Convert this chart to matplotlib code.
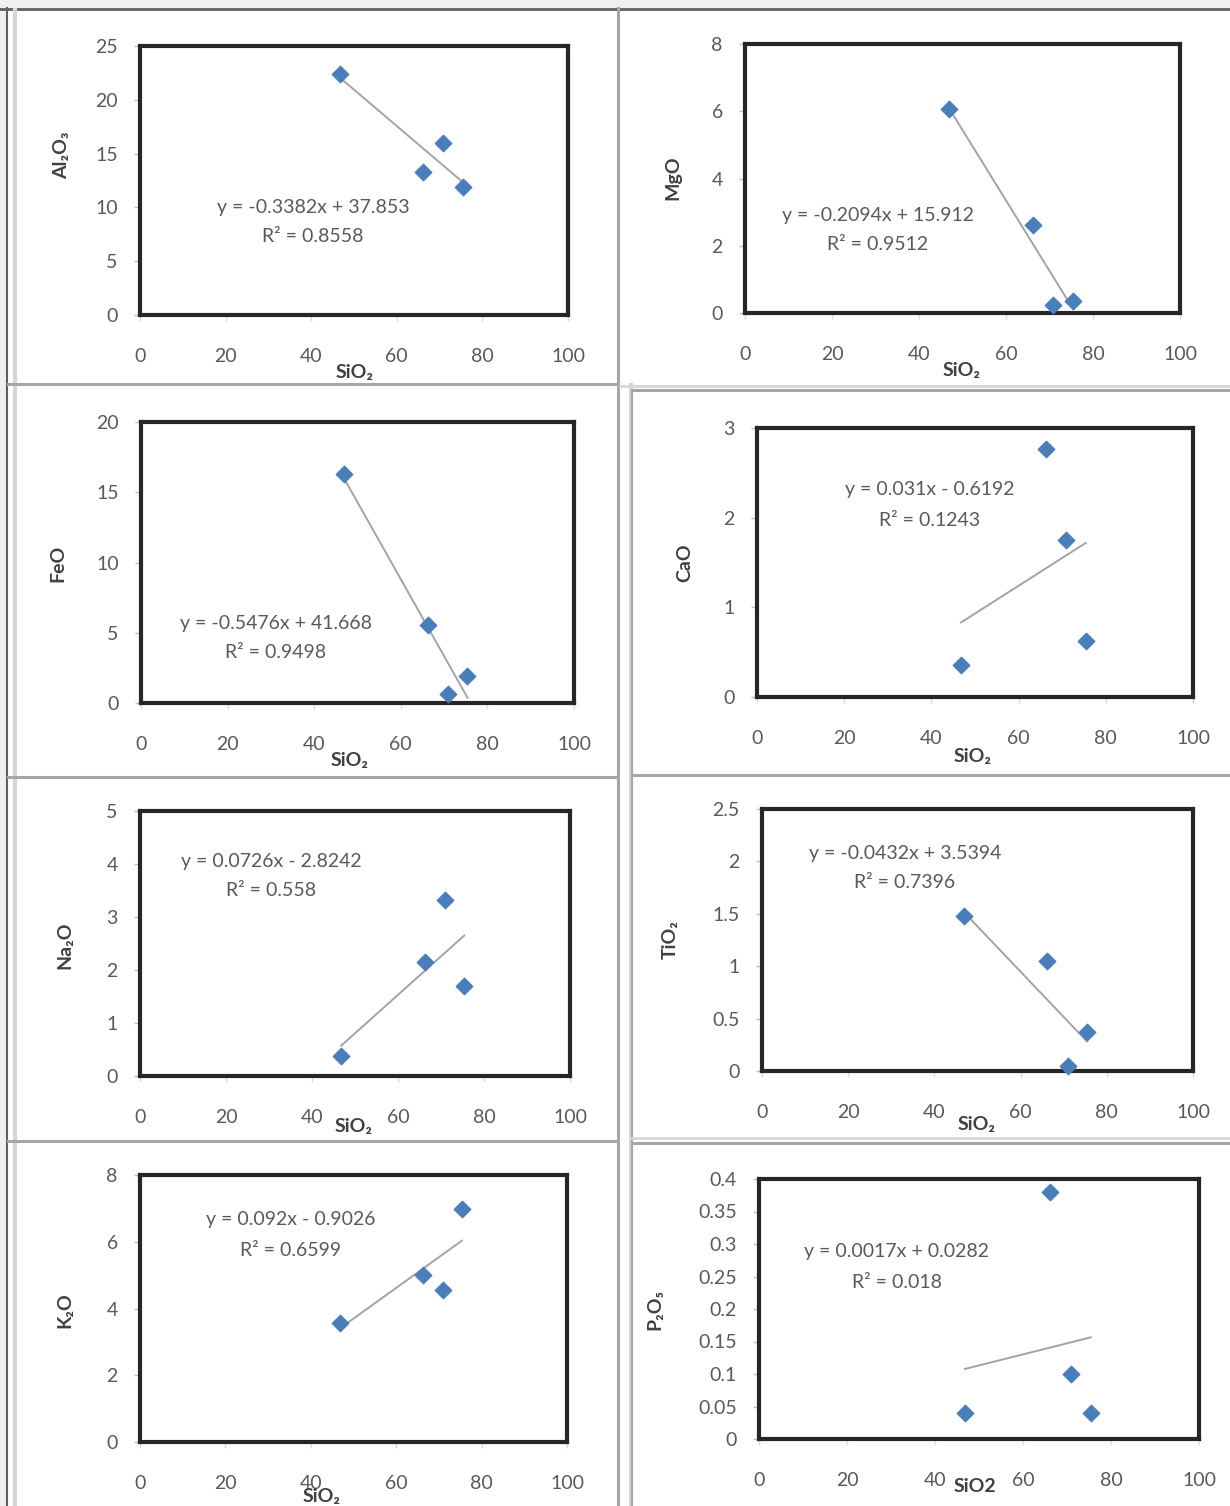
import matplotlib
matplotlib.use("Agg")
import matplotlib.pyplot as plt
from matplotlib.lines import Line2D
import numpy as np

plt.rcParams['font.family'] = ['Lato', 'DejaVu Sans']

W, H = 1230, 1506

# ---------------- data ----------------
sio2 = [46.8, 66.2, 70.9, 75.4]

al2o3 = [22.4, 13.3, 16.0, 11.9]
mgo = [6.07, 2.62, 0.24, 0.36]
feo = [16.3, 5.55, 0.64, 1.92]
cao = [0.36, 2.77, 1.75, 0.63]
na2o = [0.38, 2.15, 3.32, 1.70]
tio2 = [1.48, 1.05, 0.05, 0.37]
k2o = [3.57, 5.0, 4.55, 6.98]
p2o5 = [0.04, 0.38, 0.10, 0.04]

slopes = [-0.3382, -0.2094, -0.5476, 0.031, 0.0726, -0.0432, 0.092, 0.0017]
intercepts = [37.853, 15.912, 41.668, -0.6192, -2.8242, 3.5394, -0.9026, 0.0282]
r2 = ["0.8558", "0.9512", "0.9498", "0.1243", "0.558", "0.7396", "0.6599", "0.018"]
equations = ["y = -0.3382x + 37.853", "y = -0.2094x + 15.912", "y = -0.5476x + 41.668",
             "y = 0.031x - 0.6192", "y = 0.0726x - 2.8242", "y = -0.0432x + 3.5394",
             "y = 0.092x - 0.9026", "y = 0.0017x + 0.0282"]
ylabels = ["Al\u2082O\u2083", "MgO", "FeO", "CaO", "Na\u2082O", "TiO\u2082", "K\u2082O", "P\u2082O\u2085"]
xlabels = ["SiO\u2082"] * 7 + ["SiO2"]
series = [al2o3, mgo, feo, cao, na2o, tio2, k2o, p2o5]
ymax = [25, 8, 20, 3, 5, 2.5, 8, 0.4]
ystep = [5, 2, 5, 1, 1, 0.5, 2, 0.05]
xticks = [0, 20, 40, 60, 80, 100]

# ---------------- layout (pixels) ----------------
axes_px = [(140, 46, 568, 315), (745, 44, 1180, 313),
           (141, 422, 574, 703), (757, 428, 1193, 697),
           (140, 811, 570, 1076), (762, 809, 1193, 1071),
           (140, 1175, 567, 1442), (759, 1179, 1199, 1439)]
eq_pos = [(313, 207), (878, 215), (276, 623), (930, 490),
          (271, 861), (905, 853), (291, 1220), (897, 1252)]
xl_pos = [(355, 372), (962, 370), (350, 760), (973, 757),
          (354, 1127), (977, 1124), (322, 1496), (975, 1487)]
yl_pos = [(62, 155), (673, 178), (58, 563), (685, 563),
          (65, 945), (670, 940), (65, 1310), (655, 1310)]

fig = plt.figure(figsize=(W / 100, H / 100), dpi=100, facecolor='white')


def fx(x):
    return x / W


def fy(y):
    return 1 - y / H


# background strip and cell borders
fig.patches.append(plt.Rectangle((0, fy(8)), 1, 8 / H, transform=fig.transFigure,
                                 color='#f0efeb', zorder=0))
fig.patches.append(plt.Rectangle((0, 0), fx(6), 1, transform=fig.transFigure,
                                 color='#f0efeb', zorder=0))


def fline(x0, y0, x1, y1, color='#a6a6a6', lw=2.2):
    fig.add_artist(Line2D([fx(x0), fx(x1)], [fy(y0), fy(y1)], color=color, lw=lw,
                          transform=fig.transFigure, zorder=1))


fline(0, 8.5, W, 8.5, color='#606060', lw=2)
fline(7, 8, 7, H, color='#606060', lw=1.5)
fline(15, 10, 15, H, color='#d6d6d6', lw=3)
fline(618, 8, 618, H)
fline(631, 385, 631, H, color='#d6d6d6', lw=3)
fline(632, 390, 632, H, color='#a6a6a6', lw=1.5)
fline(8, 384, 618, 384)
fline(8, 777, 618, 777)
fline(8, 1141, 618, 1141)
fline(620, 386, W, 386, color='#d6d6d6', lw=2)
fline(632, 390, W, 390)
fline(632, 775, W, 775)
fline(632, 1138, W, 1138, color='#d6d6d6', lw=2)
fline(632, 1143, W, 1143)

txtc = '#595959'
fs = 14
for i in range(8):
    x0, y0, x1, y1 = axes_px[i]
    ax = fig.add_axes([fx(x0), fy(y1), (x1 - x0) / W, (y1 - y0) / H])
    ax.set_xlim(0, 100)
    ax.set_ylim(0, ymax[i])
    xs = np.array(sio2)
    ax.scatter(xs, series[i], marker='D', s=70, color='#4a7ebb', zorder=3,
               edgecolors='#4a7ebb', clip_on=False)
    xl = np.array([xs.min(), xs.max()])
    ax.plot(xl, slopes[i] * xl + intercepts[i], color='#a3a3a3', lw=1.4, zorder=2)
    ax.set_xticks(xticks)
    yt = np.arange(0, ymax[i] + ystep[i] / 2, ystep[i])
    ax.set_yticks(yt)
    ax.set_yticklabels([("%g" % v) for v in yt])
    for s in ax.spines.values():
        s.set_linewidth(3)
        s.set_color('#262626')
    ax.tick_params(axis='y', direction='out', length=4, width=1, color='#bfbfbf',
                   labelsize=fs, labelcolor=txtc, pad=12)
    ax.tick_params(axis='x', direction='out', length=4, width=1, color='#d9d9d9',
                   labelsize=fs, labelcolor=txtc, pad=20)
    ex, ey = eq_pos[i]
    ax.text((ex - x0) / (x1 - x0), (y1 - ey) / (y1 - y0), equations[i], transform=ax.transAxes,
            ha='center', va='center', fontsize=fs, color=txtc)
    ax.text((ex - x0) / (x1 - x0), (y1 - ey - 30) / (y1 - y0), "R\u00b2 = " + r2[i],
            transform=ax.transAxes, ha='center', va='center', fontsize=fs, color=txtc)
    fig.text(fx(xl_pos[i][0]), fy(xl_pos[i][1]), xlabels[i], ha='center', va='center',
             fontsize=fs, fontweight='bold', color='#404040')
    fig.text(fx(yl_pos[i][0]), fy(yl_pos[i][1]), ylabels[i], ha='center', va='center',
             fontsize=fs, fontweight='bold', color='#404040', rotation=90)

fig.savefig('out.png', dpi=100, facecolor='white')
